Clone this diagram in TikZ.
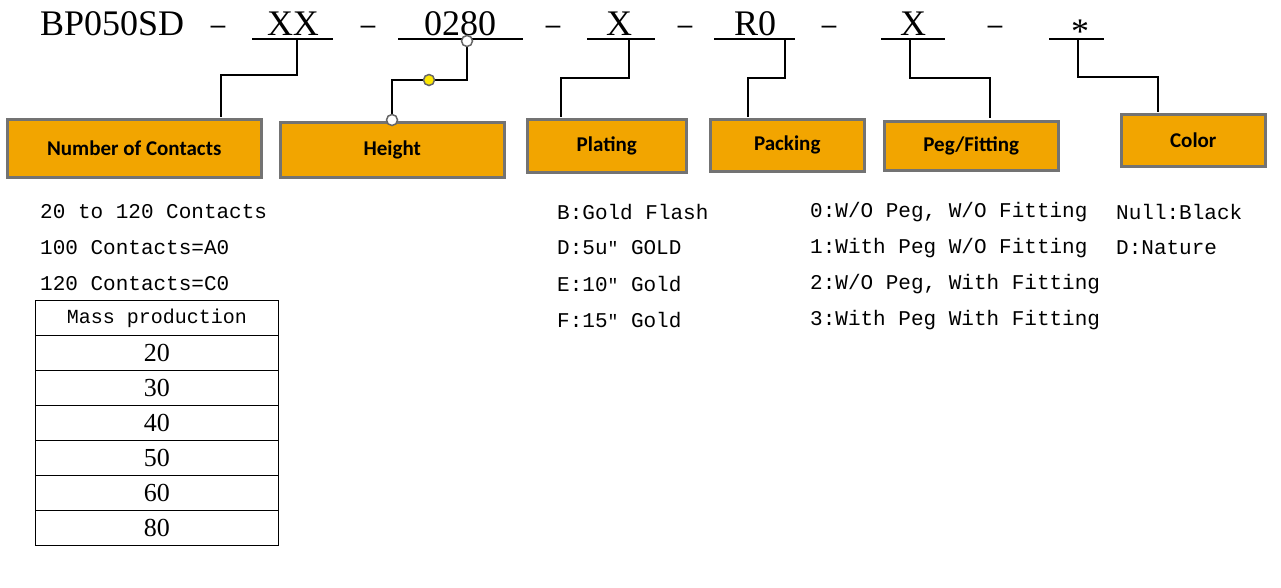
\documentclass[tikz,border=0pt]{standalone}
\usepackage{fontspec}
\setmainfont{Liberation Serif}
\newfontfamily\boxfont{Carlito}
\newfontfamily\monofont{Liberation Mono}
\begin{document}
\begin{tikzpicture}[x=1pt,y=-1pt,
  lbl/.style={draw=black!55,line width=2.5pt,fill=orange!60!yellow!95!red,fill={rgb,255:red,242;green,165;blue,0},font=\boxfont\bfseries\fontsize{21}{24}\selectfont,inner sep=0pt},
  tk/.style={font=\fontsize{36}{40}\selectfont,anchor=base,inner sep=0pt},
  conn/.style={line width=2.5pt},
  txt/.style={font=\monofont\fontsize{21}{24}\selectfont,anchor=west,inner sep=0pt},
  ul/.style={line width=1.8pt},
  cell/.style={draw,line width=0.8pt,minimum width=243pt,minimum height=35pt,inner sep=0pt,anchor=north west}]
\useasboundingbox (0,0) rectangle (1281,587);
% title tokens
\node[tk,anchor=base west] (bp) at (40,35) {BP050SD};
\foreach \x/\n in {218/d1,368/d2,553/d3,685/d4,829/d5,995/d6}
  \node[tk] (\n) at (\x,35) {\scalebox{0.8}[1]{–}};
\node[tk] (txx) at (293,35) {XX};
\node[tk] (t0280) at (460,35) {0280};
\node[tk] (tx1) at (619,35) {X};
\node[tk] (tr0) at (755,35) {R0};
\node[tk] (tx2) at (913,35) {X};
\node[tk] (tst) at (1080,35) {\raisebox{-8pt}{*}};
\foreach \a/\b in {252/333,398/523,587/655,714/795,881/945,1049/1104}
  \draw[ul] (\a,39) -- (\b,39);
% boxes
\node[lbl,minimum width=254pt,minimum height=58pt,anchor=north west] (bnc) at (6,118) {Number of Contacts};
\node[lbl,minimum width=224pt,minimum height=55pt,anchor=north west] (bh) at (279,121) {Height};
\node[lbl,minimum width=159pt,minimum height=53pt,anchor=north west] (bpl) at (526,118) {Plating};
\node[lbl,minimum width=154pt,minimum height=52pt,anchor=north west] (bpk) at (709,118) {Packing};
\node[lbl,minimum width=174pt,minimum height=49pt,anchor=north west] (bpg) at (883,120) {Peg/Fitting};
\node[lbl,minimum width=144pt,minimum height=52pt,anchor=north west] (bc) at (1120,113) {Color};
% connectors
\coordinate (a1) at (297,39); \coordinate (b1) at (221,117);
\draw[conn] (a1) |- (221,75) -- (b1);
\coordinate (a2) at (467,41); \coordinate (b2) at (392,120);
\draw[conn] (a2) |- (392,80) -- (b2);
\draw[conn] (629,39) |- (561,78) -- (561,117);
\draw[conn] (785,39) |- (748,78) -- (748,117);
\draw[conn] (910,39) |- (990,78) -- (990,118);
\draw[conn] (1078,39) |- (1158,77) -- (1158,112);
\fill[white,draw=black!60,line width=1.5pt] (a2) circle (5.5pt);
\fill[white,draw=black!60,line width=1.5pt] (b2) circle (5.5pt);
\fill[yellow!90!orange,draw=black!60,line width=1.5pt] (429,80) circle (5.5pt);
% lists
\node[txt] (l1) at (40,212) {20 to 120 Contacts};
\node[txt] (l2) at (40,248) {100 Contacts=A0};
\node[txt] (l3) at (40,284) {120 Contacts=C0};
\node[txt] (p1) at (557,212) {B:Gold Flash};
\node[txt] (p2) at (557,248) {D:5u{\fontsize{18}{20}\selectfont″} GOLD};
\node[txt] (p3) at (557,284) {E:10{\fontsize{18}{20}\selectfont″} Gold};
\node[txt] (p4) at (557,320) {F:15{\fontsize{18}{20}\selectfont″} Gold};
\node[txt] (g1) at (810,212) {0:W/O Peg, W/O Fitting};
\node[txt] (g2) at (810,248) {1:With Peg W/O Fitting};
\node[txt] (g3) at (810,284) {2:W/O Peg, With Fitting};
\node[txt] (g4) at (810,320) {3:With Peg With Fitting};
\node[txt] (c1) at (1116,212) {Null:Black};
\node[txt] (c2) at (1116,248) {D:Nature};
% table
\node[cell,font=\monofont\fontsize{20}{22}\selectfont] (h) at (35,300) {Mass production};
\foreach \v [count=\i] in {20,30,40,50,60,80}
  \node[cell,font=\fontsize{26}{28}\selectfont] (r\i) at (35,300+35*\i) {\v};
\end{tikzpicture}
\end{document}
